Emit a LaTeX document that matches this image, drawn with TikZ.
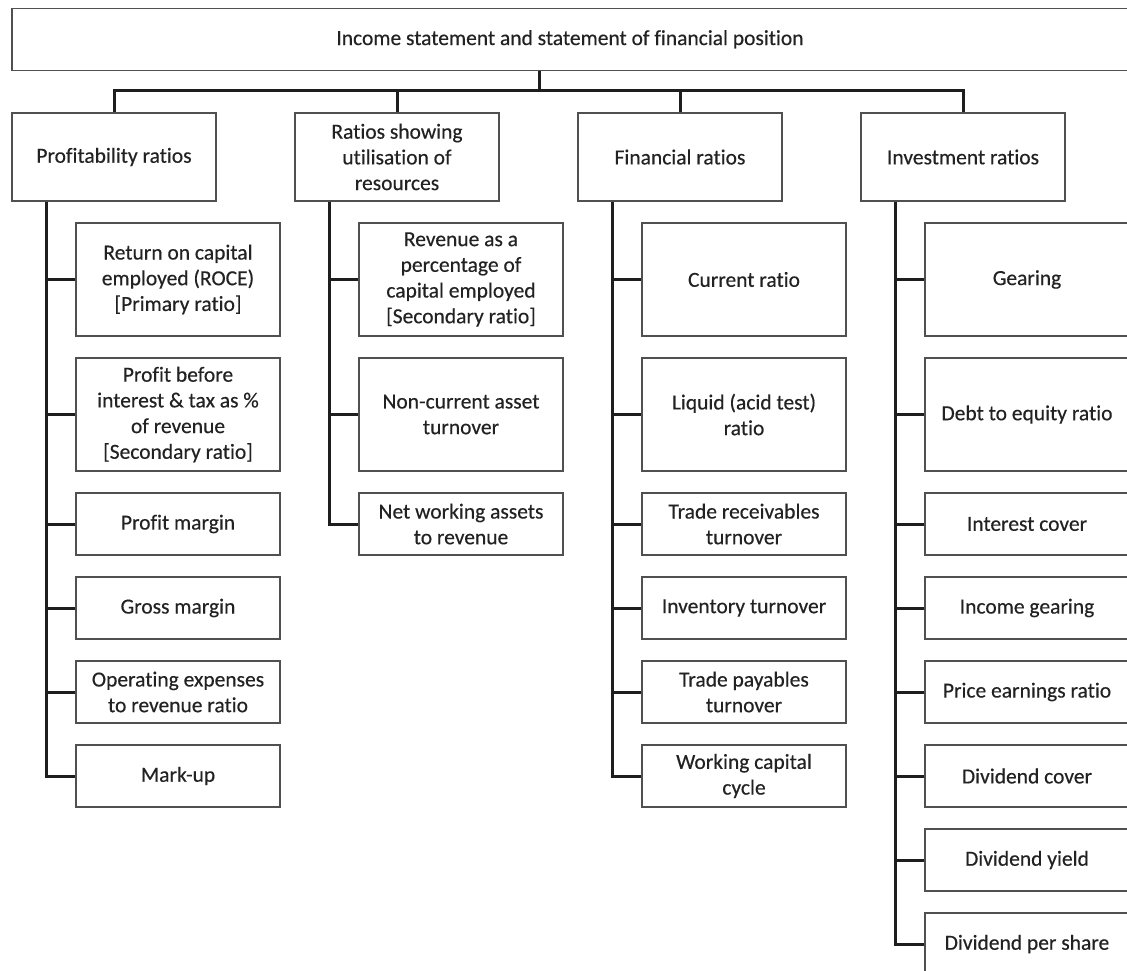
\documentclass[tikz,border=0pt]{standalone}
\usepackage{fontspec}
\setmainfont{Carlito}[RawFeature=-liga, FakeBold=0.4]
\definecolor{boxc}{HTML}{505050}
\definecolor{linec}{HTML}{1E1E1E}
\definecolor{txtc}{HTML}{222222}
\begin{document}
\begin{tikzpicture}[x=1pt,y=-1pt,
  box/.style={draw=boxc, line width=1.4pt, text=txtc, align=center, minimum width=204pt, inner sep=0pt, font=\fontsize{21.5}{25.7}\selectfont},
  tallbox/.style={box, minimum height=113pt},
  shortbox/.style={box, minimum height=62pt},
  catbox/.style={box, minimum height=88pt},
  conn/.style={draw=linec, line width=3pt}]
\clip (0,0) rectangle (1127,971);
% top
\node[box, minimum width=1116pt, minimum height=62pt] (top) at (570,39.3) {Income statement and statement of financial position};
% categories
\node[catbox] (prof) at (114,157) {Profitability ratios};
\node[catbox] (util) at (397,157) {Ratios showing\\utilisation of\\resources};
\node[catbox] (fin)  at (680,157) {Financial ratios};
\node[catbox] (inv)  at (963,157) {Investment ratios};
\coordinate (bus) at (539,91);
\draw[conn] (top.south -| bus) -- (bus);
\draw[conn] (prof.north) |- (bus) -| (inv.north);
\draw[conn] (util.north) -- (util.north |- bus);
\draw[conn] (fin.north) -- (fin.north |- bus);
% column 1
\node[tallbox]  (p1) at (178,279.5) {Return on capital\\employed (ROCE)\\{[}Primary ratio{]}};
\node[tallbox]  (p2) at (178,414.5) {Profit before\\interest \& tax as \%\\of revenue\\{[}Secondary ratio{]}};
\node[shortbox] (p3) at (178,524) {Profit margin};
\node[shortbox] (p4) at (178,608) {Gross margin};
\node[shortbox] (p5) at (178,692) {Operating expenses\\to revenue ratio};
\node[shortbox] (p6) at (178,776) {Mark-up};
% column 2
\node[tallbox]  (u1) at (461,279.5) {Revenue as a\\percentage of\\capital employed\\{[}Secondary ratio{]}};
\node[tallbox]  (u2) at (461,414.5) {Non-current asset\\turnover};
\node[shortbox] (u3) at (461,524) {Net working assets\\to revenue};
% column 3
\node[tallbox]  (f1) at (744,279.5) {Current ratio};
\node[tallbox]  (f2) at (744,414.5) {Liquid (acid test)\\ratio};
\node[shortbox] (f3) at (744,524) {Trade receivables\\turnover};
\node[shortbox] (f4) at (744,608) {Inventory turnover};
\node[shortbox] (f5) at (744,692) {Trade payables\\turnover};
\node[shortbox] (f6) at (744,776) {Working capital\\cycle};
% column 4
\node[tallbox]  (i1) at (1027,279.5) {Gearing};
\node[tallbox]  (i2) at (1027,414.5) {Debt to equity ratio};
\node[shortbox] (i3) at (1027,524) {Interest cover};
\node[shortbox] (i4) at (1027,608) {Income gearing};
\node[shortbox] (i5) at (1027,692) {Price earnings ratio};
\node[shortbox] (i6) at (1027,776) {Dividend cover};
\node[shortbox] (i7) at (1027,860) {Dividend yield};
\node[shortbox] (i8) at (1027,944) {Dividend per share};
% column connectors
\coordinate (pv) at ([xshift=-68pt]prof.south);
\coordinate (uv) at ([xshift=-68pt]util.south);
\coordinate (fv) at ([xshift=-68pt]fin.south);
\coordinate (iv) at ([xshift=-68pt]inv.south);
\draw[conn] (pv) |- (p6.west);
\foreach \k in {1,...,5} \draw[conn] (p\k.west) -- (p\k.west -| pv);
\draw[conn] (uv) |- (u3.west);
\foreach \k in {1,2} \draw[conn] (u\k.west) -- (u\k.west -| uv);
\draw[conn] (fv) |- (f6.west);
\foreach \k in {1,...,5} \draw[conn] (f\k.west) -- (f\k.west -| fv);
\draw[conn] (iv) |- (i8.west);
\foreach \k in {1,...,7} \draw[conn] (i\k.west) -- (i\k.west -| iv);
\end{tikzpicture}
\end{document}
